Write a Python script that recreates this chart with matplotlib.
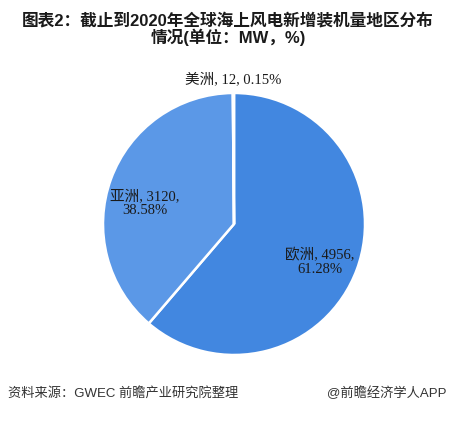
import matplotlib
matplotlib.use("Agg")
import matplotlib.pyplot as plt

# Data
regions = ["欧洲", "亚洲", "美洲"]
capacity = [4956, 3120, 12]
shares = ["61.28%", "38.58%", "0.15%"]

colors = ["#4287E0", "#5B98E7", "#7AAEEE"]

fig = plt.figure(figsize=(4.57, 4.22), dpi=100)
fig.patch.set_facecolor("white")

sans = ["Liberation Sans", "Noto Sans CJK SC", "DejaVu Sans"]
serif = ["Liberation Serif", "Noto Sans CJK SC", "DejaVu Sans"]

ax = fig.add_axes([0.2254, 0.1588, 0.5733, 0.6209])
wedges, _ = ax.pie(capacity, colors=colors, startangle=90, counterclock=False,
                   radius=1.0, wedgeprops=dict(edgecolor="white", linewidth=1.8))
ax.set_xlim(-1, 1)
ax.set_ylim(-1, 1)
ax.set_aspect("auto")
ax.axis("off")

# label positions (data coords of axes)
label_pos = [(0.655, -0.29), (-0.68, 0.16), (-0.005, 1.107)]
for i, (r, c, s) in enumerate(zip(regions, capacity, shares)):
    if i < 2:
        txt = f"{r}, {c},\n{s}"
    else:
        txt = f"{r}, {c}, {s}"
    x, y = label_pos[i]
    ax.text(x, y, txt, ha="center", va="center", fontsize=10.5, family=serif,
            color="#1a1a1a", linespacing=1.1, clip_on=False)

# Title
fig.text(0.499, 1 - 21 / 422, "图表2：截止到2020年全球海上风电新增装机量地区分布",
         ha="center", va="center", fontsize=12, fontweight="bold", family=sans, color="#1a1a1a")
fig.text(0.499, 1 - 37.5 / 422, "情况(单位：MW，%)",
         ha="center", va="center", fontsize=12, fontweight="bold", family=sans, color="#1a1a1a")

# Footer
fig.text(8 / 457, 1 - 393 / 422, "资料来源：GWEC 前瞻产业研究院整理",
         ha="left", va="center", fontsize=9.5, family=sans, color="#333333")
fig.text(447 / 457, 1 - 393 / 422, "@前瞻经济学人APP",
         ha="right", va="center", fontsize=9.5, family=sans, color="#333333")

fig.savefig("out.png", dpi=100, facecolor="white")
